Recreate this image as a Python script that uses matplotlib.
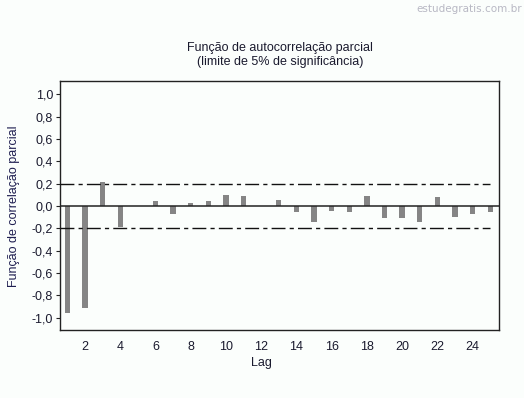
import numpy as np
import matplotlib
matplotlib.use("Agg")
import matplotlib.pyplot as plt

lags = np.arange(1, 26)
pacf = [-0.96, -0.91, 0.215, -0.185, 0.0, 0.045, -0.07, 0.03, 0.045, 0.10,
        0.09, 0.0, 0.055, -0.05, -0.14, -0.04, -0.05, 0.09, -0.11, -0.11,
        -0.14, 0.08, -0.095, -0.07, -0.05]
limit = 0.2
yticks = np.arange(-1.0, 1.01, 0.2)
xticks = np.arange(2, 25, 2)

plt.rcParams['font.family'] = ['Liberation Sans', 'DejaVu Sans']
bg = '#fbfefc'
navy = '#1e1e50'

fig = plt.figure(figsize=(5.24, 3.98), dpi=100, facecolor=bg)
ax = fig.add_axes([0.1145, 0.1709, 0.8378, 0.6256], facecolor=bg)

ax.bar(lags, pacf, width=0.3, color='#858585', zorder=2)
ax.axhline(0, color='#222222', lw=1.1, zorder=3)
ax.hlines([limit, -limit], 0.58, 25.0, colors='#111111', lw=1.0,
          linestyles=(0, (10, 3, 3, 3)), zorder=3)

ax.set_xlim(0.58, 25.5)
ax.set_ylim(-1.11, 1.12)
ax.set_yticks(yticks)
ax.set_yticklabels([('%.1f' % v).replace('.', ',').replace('-0,0', '0,0') for v in yticks])
ax.set_xticks(xticks)
ax.tick_params(axis='y', direction='out', length=3, width=0.8, labelsize=9,
               colors='#222222', labelcolor='#1a1a2e', pad=2)
ax.tick_params(axis='x', length=0, labelsize=9, labelcolor='#1a1a2e', pad=8)
for s in ax.spines.values():
    s.set_linewidth(1.0)
    s.set_color('#222222')

fig.text(0.534, 0.862, 'Função de autocorrelação parcial\n(limite de 5% de significância)',
         ha='center', va='center', fontsize=9, color='#1a1a2e', linespacing=1.25)
fig.text(0.498, 0.088, 'Lag', ha='center', va='center', fontsize=9, color='#1a1a2e')
fig.text(0.027, 0.483, 'Função de correlação parcial', rotation=90,
         ha='center', va='center', fontsize=9, color=navy)
fig.text(0.996, 0.978, 'estudegratis.com.br', ha='right', va='center',
         fontsize=7.5, color='#b8b8c4', family='DejaVu Sans')

fig.savefig('out.png', dpi=100, facecolor=bg)
